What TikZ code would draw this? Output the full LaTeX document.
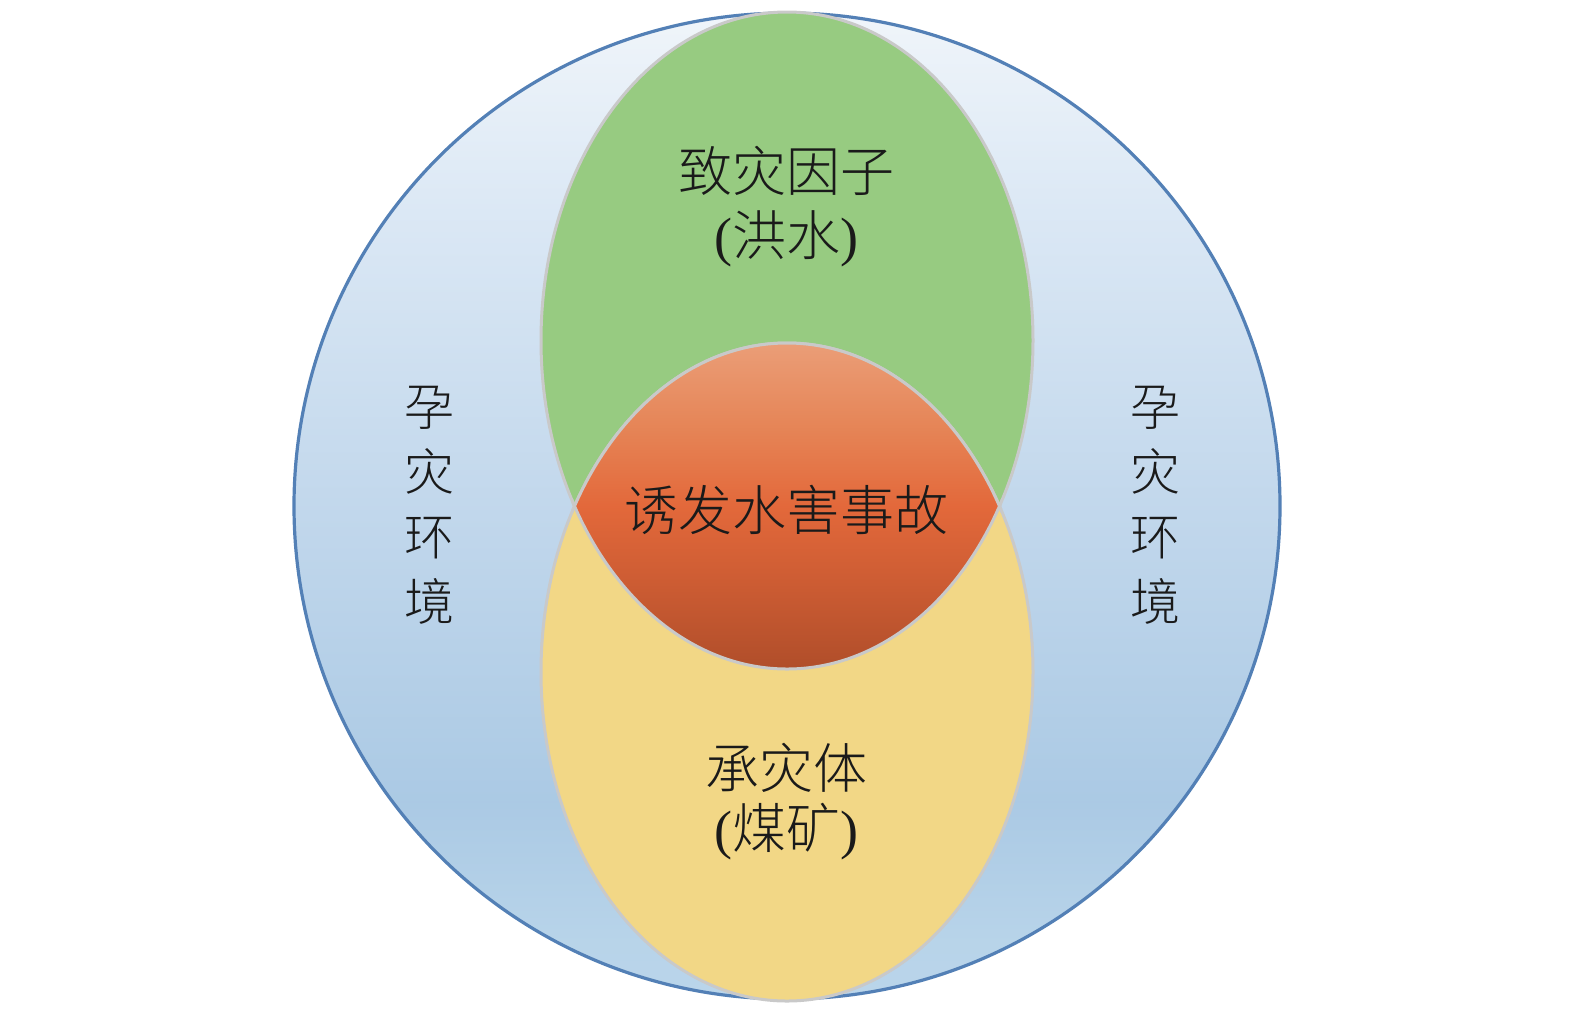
\documentclass[tikz,border=0pt]{standalone}
\usepackage{fontspec}
\setmainfont{Liberation Serif}
\newfontfamily\cjk{Noto Sans CJK SC Light}
\definecolor{ringline}{HTML}{5380B6}
\definecolor{greyline}{HTML}{C9C9C9}
\definecolor{greenfill}{HTML}{97CB81}
\definecolor{yellowfill}{HTML}{F2D786}
\definecolor{txt}{HTML}{1A1A1A}
\pgfdeclareverticalshading{bluering}{100bp}{
  rgb(0bp)=(0.73,0.835,0.918);
  rgb(25bp)=(0.73,0.835,0.918);
  rgb(28bp)=(0.72,0.83,0.915);
  rgb(35bp)=(0.67,0.79,0.895);
  rgb(50bp)=(0.76,0.845,0.925);
  rgb(65bp)=(0.86,0.91,0.96);
  rgb(75bp)=(0.94,0.96,0.98);
  rgb(100bp)=(0.94,0.96,0.98)}
\pgfdeclareverticalshading{redlens}{100bp}{
  rgb(0bp)=(0.69,0.305,0.165);
  rgb(25bp)=(0.69,0.305,0.165);
  rgb(38bp)=(0.80,0.36,0.20);
  rgb(50bp)=(0.89,0.41,0.23);
  rgb(62bp)=(0.90,0.52,0.34);
  rgb(75bp)=(0.92,0.62,0.47);
  rgb(100bp)=(0.92,0.62,0.47)}
\tikzset{
  outline/.style={draw=greyline,line width=1.5pt},
  lbl/.style={text=txt,inner sep=0pt,font=\cjk\fontsize{27}{34}\selectfont},
  vlbl/.style={text=txt,inner sep=0pt,align=center,font=\cjk\fontsize{25}{32.5}\selectfont}
}
\begin{document}
\begin{tikzpicture}[x=0.5pt,y=-0.5pt]
\useasboundingbox (0,0) rectangle (1575,1014);
% outer ring
\shade[shading=bluering] (787,506) circle[radius=246.5pt];
\draw[ringline,line width=1.6pt] (787,506) circle[radius=246.5pt];
% green ellipse
\fill[greenfill] (787,340.5) ellipse[x radius=123pt,y radius=164.25pt];
\draw[outline] (787,340.5) ellipse[x radius=123pt,y radius=164.25pt];
% yellow ellipse
\fill[yellowfill] (787,672) ellipse[x radius=123pt,y radius=164.5pt];
\draw[outline] (787,672) ellipse[x radius=123pt,y radius=164.5pt];
% red lens
\begin{scope}
\clip (787,340.5) ellipse[x radius=123pt,y radius=164.25pt];
\clip (787,672) ellipse[x radius=123pt,y radius=164.5pt];
\shade[shading=redlens] (560,342) rectangle (1015,669);
\end{scope}
\begin{scope}
\clip (787,672) ellipse[x radius=125pt,y radius=166.5pt];
\draw[outline] (787,340.5) ellipse[x radius=123pt,y radius=164.25pt];
\end{scope}
\begin{scope}
\clip (787,340.5) ellipse[x radius=125pt,y radius=166.25pt];
\draw[outline] (787,672) ellipse[x radius=123pt,y radius=164.5pt];
\end{scope}
% labels
\node[lbl] (hazard) at (786,171) {致灾因子};
\node[lbl] (flood) at (786,239) {\rmfamily(\cjk 洪水\rmfamily)};
\node[lbl] (accident) at (786,510) {诱发水害事故};
\node[lbl] (body) at (786,768) {承灾体};
\node[lbl] (mine) at (786,832) {\rmfamily(\cjk 煤矿\rmfamily)};
\node[vlbl] (envL) at (429,505) {孕\\灾\\环\\境};
\node[vlbl] (envR) at (1155,505) {孕\\灾\\环\\境};
\end{tikzpicture}
\end{document}
